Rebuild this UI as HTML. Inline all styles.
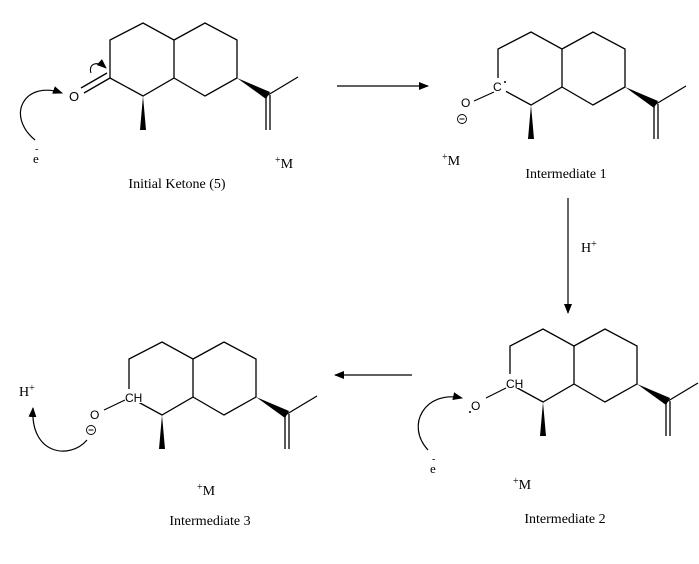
<!DOCTYPE html>
<html><head><style>body{margin:0;background:#fff}svg{display:block}text{font-family:"Liberation Serif",serif;fill:#000}.s{font-family:"Liberation Sans",sans-serif}</style></head><body>
<svg width="699" height="564" viewBox="0 0 699 564" xmlns="http://www.w3.org/2000/svg">
<defs>
<g id="sk" stroke="#000" stroke-width="1.3" fill="none">
<path d="M110,78 L110,40 L143,23 L174,40 L174,78 L143,96 L110,78"/>
<path d="M174,40 L205,23 L237,40 L237,78 L205,96 L174,78"/>
<path d="M268,95 L298,77"/>
<path d="M266,95 L266,130 M270,95 L270,130"/>
<polygon points="143,96 140,130 146,130" fill="#000" stroke="none"/>
<polygon points="237,78 266,99 270,92" fill="#000" stroke="none"/>
</g>
<marker id="ah" markerWidth="10" markerHeight="8" refX="9" refY="4" orient="auto" markerUnits="userSpaceOnUse"><path d="M0,0 L10,4 L0,8 z" fill="#000"/></marker>
</defs>
<!-- Mol 1 -->
<use href="#sk"/>
<path d="M110,78 L84,93 M107,73 L81,88" stroke="#000" stroke-width="1.3"/>
<text x="69" y="101" class="s" font-size="13">O</text>
<path d="M35,140 C5,115 25,80 62,93" fill="none" stroke="#000" stroke-width="1.2" marker-end="url(#ah)"/>
<path d="M91,73 C88,64 97,60 106,68" fill="none" stroke="#000" stroke-width="1.1" marker-end="url(#ah)"/>
<text x="33" y="163" font-size="13">e</text><text x="35" y="152" font-size="10">-</text>
<text x="275" y="168" font-size="14"><tspan font-size="10" dy="-5">+</tspan><tspan dy="5">M</tspan></text>
<text x="177" y="188" font-size="14" text-anchor="middle">Initial Ketone (5)</text>
<!-- arrow 1 -->
<line x1="337" y1="86" x2="428" y2="86" stroke="#000" stroke-width="1.2" marker-end="url(#ah)"/>
<!-- Mol 2 -->
<g transform="translate(388,9)"><use href="#sk"/></g>
<rect x="492" y="78" width="14" height="14" fill="#fff"/>
<text x="493" y="91" class="s" font-size="12">C</text>
<circle cx="505" cy="82" r="1" fill="#000"/>
<line x1="494" y1="92" x2="474" y2="101" stroke="#000" stroke-width="1.1"/>
<text x="461" y="107" class="s" font-size="12">O</text>
<circle cx="462" cy="119" r="4.5" fill="none" stroke="#000" stroke-width="0.9"/><line x1="459.5" y1="119" x2="464.5" y2="119" stroke="#000"/>
<text x="442" y="165" font-size="14"><tspan font-size="10" dy="-5">+</tspan><tspan dy="5">M</tspan></text>
<text x="566" y="178" font-size="14" text-anchor="middle">Intermediate 1</text>
<!-- vertical arrow -->
<line x1="568" y1="198" x2="568" y2="313" stroke="#000" stroke-width="1.2" marker-end="url(#ah)"/>
<text x="581" y="252" font-size="14">H<tspan font-size="10" dy="-5">+</tspan></text>
<!-- Mol 3 (Int 2) -->
<g transform="translate(400,306)"><use href="#sk"/></g>
<rect x="504" y="374" width="22" height="14" fill="#fff"/>
<text x="506" y="388" class="s" font-size="12">CH</text>
<line x1="506" y1="388" x2="486" y2="398" stroke="#000" stroke-width="1.1"/>
<text x="471" y="410" class="s" font-size="12">O</text>
<circle cx="470" cy="412" r="1" fill="#000"/>
<path d="M428,450 C405,425 425,390 462,398" fill="none" stroke="#000" stroke-width="1.2" marker-end="url(#ah)"/>
<text x="430" y="473" font-size="13">e</text><text x="432" y="462" font-size="10">-</text>
<text x="513" y="489" font-size="14"><tspan font-size="10" dy="-5">+</tspan><tspan dy="5">M</tspan></text>
<text x="565" y="523" font-size="14" text-anchor="middle">Intermediate 2</text>
<!-- arrow left -->
<line x1="412" y1="375" x2="335" y2="375" stroke="#000" stroke-width="1.2" marker-end="url(#ah)"/>
<!-- Mol 4 (Int 3) -->
<g transform="translate(19,319)"><use href="#sk"/></g>
<rect x="123" y="389" width="22" height="14" fill="#fff"/>
<text x="125" y="402" class="s" font-size="12">CH</text>
<line x1="125" y1="400" x2="104" y2="410" stroke="#000" stroke-width="1.1"/>
<text x="90" y="419" class="s" font-size="12">O</text>
<circle cx="91" cy="430" r="4.5" fill="none" stroke="#000" stroke-width="0.9"/><line x1="88.5" y1="430" x2="93.5" y2="430" stroke="#000"/>
<path d="M87,440 C70,460 30,455 33,408" fill="none" stroke="#000" stroke-width="1.2" marker-end="url(#ah)"/>
<text x="19" y="396" font-size="14">H<tspan font-size="10" dy="-5">+</tspan></text>
<text x="197" y="495" font-size="14"><tspan font-size="10" dy="-5">+</tspan><tspan dy="5">M</tspan></text>
<text x="210" y="525" font-size="14" text-anchor="middle">Intermediate 3</text>
</svg>
</body></html>
